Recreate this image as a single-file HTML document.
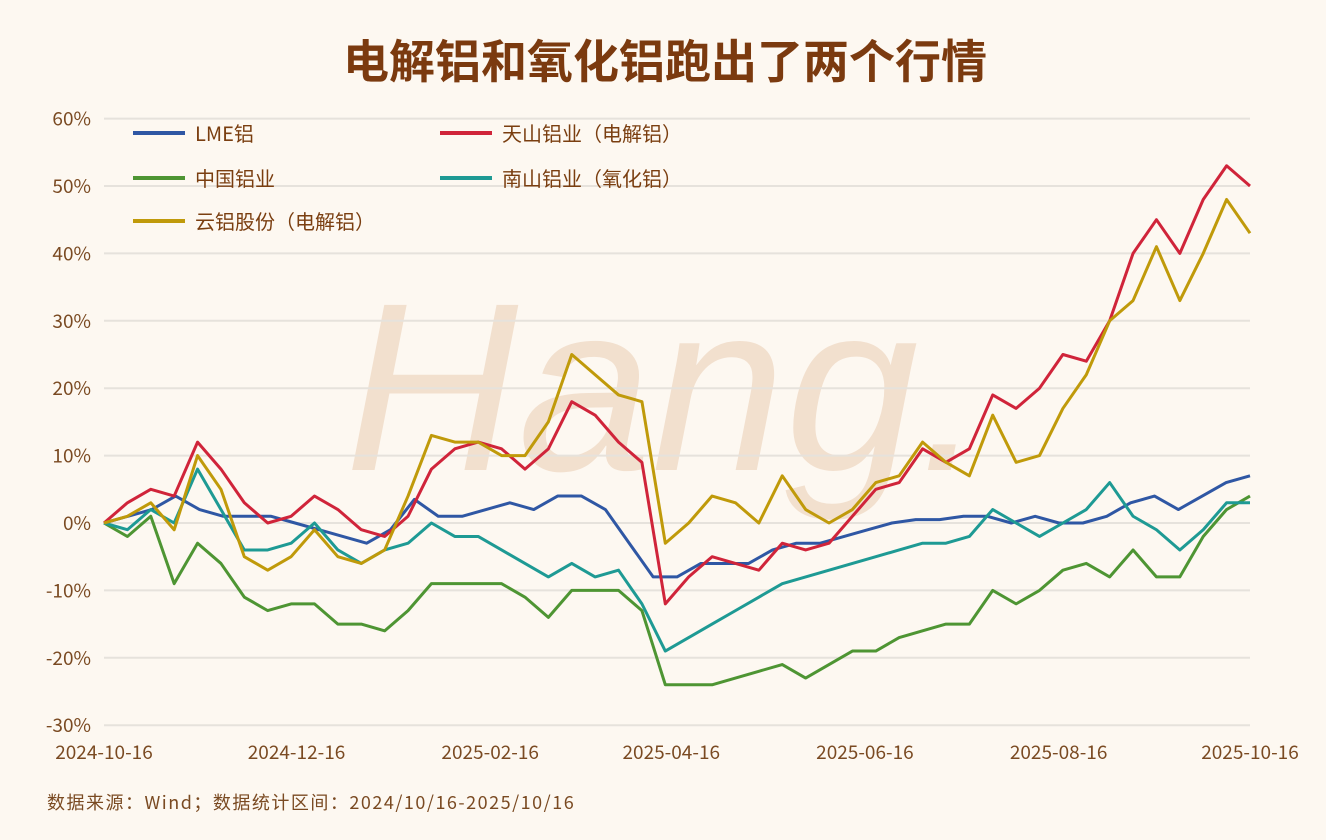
<!DOCTYPE html>
<html><head><meta charset="utf-8"><style>
body{margin:0;background:#fdf8f1;}
svg{display:block;font-family:"Liberation Sans","Noto Sans CJK SC",sans-serif;}
.cjk{font-family:"Noto Sans CJK SC","Liberation Sans",sans-serif;}
</style></head><body>
<svg id="c" width="1326" height="840" viewBox="0 0 1326 840">
<rect width="1326" height="840" fill="#fdf8f1"/>
<text class="cjk" x="665" y="78" text-anchor="middle" font-size="46" font-weight="bold" fill="#7b3a0f">电解铝和氧化铝跑出了两个行情</text>
<text x="665" y="470" text-anchor="middle" font-size="240" font-style="italic" fill="#f1dcc9" opacity="0.85" font-family="Liberation Sans,sans-serif">Hang.</text>
<g id="grid"></g><g id="lines"></g><g id="legend"></g>
<text class="cjk" x="47" y="809" font-size="18" letter-spacing="1.5" fill="#7a4a22">数据来源：Wind；数据统计区间：2024/10/16-2025/10/16</text>
</svg>
<script>
const yTicks=[60,50,40,30,20,10,0,-10,-20,-30];
const xLabels=["2024-10-16","2024-12-16","2025-02-16","2025-04-16","2025-06-16","2025-08-16","2025-10-16"];
const xLabelPos=[0,0.168,0.337,0.495,0.664,0.833,1];
const seriesNames=["LME铝","天山铝业（电解铝）","中国铝业","南山铝业（氧化铝）","云铝股份（电解铝）"];
const lme=[0,1,2,4,2,1,1,1,0,-1,-2,-3,-1,3.5,1,1,2,3,2,4,4,2,-3,-8,-8,-6,-6,-6,-4,-3,-3,-2,-1,0,0.5,0.5,1,1,0,1,0,0,1,3,4,2,4,6,7];
const tianshan=[0,3,5,4,12,8,3,0,1,4,2,-1,-2,1,8,11,12,11,8,11,18,16,12,9,-12,-8,-5,-6,-7,-3,-4,-3,1,5,6,11,9,11,19,17,20,25,24,30,40,45,40,48,53,50];
const chalco=[0,-2,1,-9,-3,-6,-11,-13,-12,-12,-15,-15,-16,-13,-9,-9,-9,-9,-11,-14,-10,-10,-10,-13,-24,-24,-24,-23,-22,-21,-23,-21,-19,-19,-17,-16,-15,-15,-10,-12,-10,-7,-6,-8,-4,-8,-8,-2,2,4];
const nanshan=[0,-1,2,0,8,2,-4,-4,-3,0,-4,-6,-4,-3,0,-2,-2,-4,-6,-8,-6,-8,-7,-12,-19,-17,-15,-13,-11,-9,-8,-7,-6,-5,-4,-3,-3,-2,2,0,-2,0,2,6,1,-1,-4,-1,3,3];
const yunlv=[0,1,3,-1,10,5,-5,-7,-5,-1,-5,-6,-4,4,13,12,12,10,10,15,25,22,19,18,-3,0,4,3,0,7,2,0,2,6,7,12,9,7,16,9,10,17,22,30,33,41,33,40,48,43];
const colors=["#2f57a4","#d0243a","#4e9533","#1e9a94","#c09a0a"];
const all=[lme,tianshan,chalco,nanshan,yunlv];
const X0=104,X1=1250,ns="http://www.w3.org/2000/svg";
const y=v=>523-v*6.74;
const xf=f=>X0+f*(X1-X0);
const xi=(i,n)=>X0+i*(X1-X0)/(n-1);
function mk(t,a,p){const e=document.createElementNS(ns,t);for(const k in a)e.setAttribute(k,a[k]);p.appendChild(e);return e;}
const grid=document.getElementById('grid');
yTicks.forEach(v=>{
 const l=mk('line',{x1:X0,x2:X1,y1:y(v),y2:y(v),stroke:'#e6e2dc','stroke-width':2},grid);
 
 
 const t=mk('text',{x:91,y:y(v)+7,'text-anchor':'end','font-size':19,fill:'#7a4a22',class:'cjk'},grid);
 t.textContent=v+'%';
 
 
});
xLabels.forEach((s,i)=>{
 const t=mk('text',{x:xf(xLabelPos[i]),y:759,'text-anchor':'middle','font-size':19,fill:'#7a4a22',class:'cjk'},grid);
 t.textContent=s;
 
 
});
const lines=document.getElementById('lines');
all.forEach((d,k)=>{
 const p=mk('polyline',{points:d.map((v,i)=>xi(i,d.length)+','+y(v)).join(' '),fill:'none',stroke:colors[k],'stroke-width':3,'stroke-linejoin':'round'},lines);
 
 
});
const legPos=[[133,133],[440,133],[133,178],[440,178],[133,221]];
const lg=document.getElementById('legend');
seriesNames.forEach((n,k)=>{
 const [lx,ly]=legPos[k];
 const l=mk('line',{x1:lx,x2:lx+52,y1:ly,y2:ly,stroke:colors[k],'stroke-width':4},lg);
 
 
 const t=mk('text',{x:lx+62,y:ly+8,'font-size':20,fill:'#7a3e10',class:'cjk'},lg);
 t.textContent=n;
 
 
});
</script>
</body></html>
